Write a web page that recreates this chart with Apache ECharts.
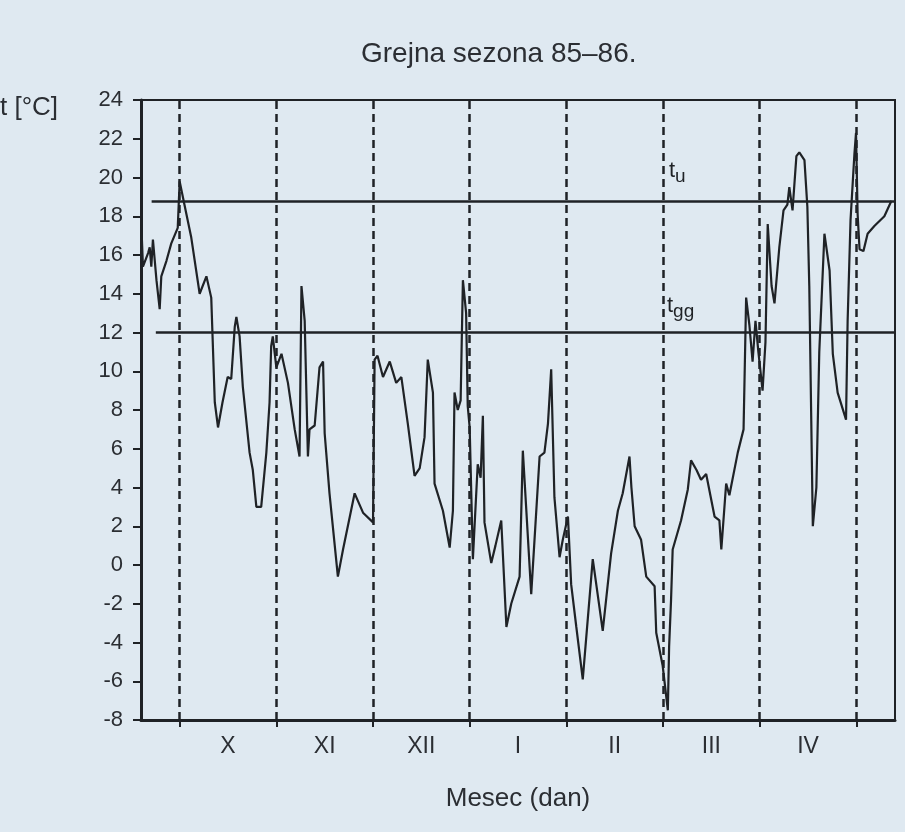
<!doctype html>
<html>
<head>
<meta charset="utf-8">
<script src="https://cdn.jsdelivr.net/npm/echarts@6/dist/echarts.min.js"></script>
<style>
    html, body { margin: 0; padding: 0; background: #dfe9f1; }
    #main { width: 905px; height: 832px; }
</style>
</head>
<body>
<div id="main"></div>
<script>
// x = dan sezone (0 = 1. oktobar, 30 dana po mesecu na crtezu)
var days = [-11.9,-11.4,-9.8,-9.3,-8.8,-8.3,-7.2,-6.2,-5.7,-4.1,
    -2.6,-0.6,0,1.6,3.6,6.2,8.3,9.8,10.9,11.9,
    13.3,14.9,16.0,17.1,17.6,18.6,19.6,21.7,22.7,23.8,
    25.3,26.9,27.9,28.4,28.9,30.0,31.6,33.6,35.7,37.2,
    37.8,38.8,39.8,40.3,41.9,43.4,44.5,45.0,46.5,49.1,
    50.7,54.3,56.9,60.0,60.5,61.4,63.1,65.2,67.2,68.8,
    70.8,72.9,74.5,76.0,77.0,78.6,79.1,81.7,83.8,84.8,
    85.3,86.3,87.2,87.9,88.9,89.4,90.0,91.0,92.5,93.4,
    94.1,94.6,96.7,98.0,99.8,101.4,102.9,105.5,106.5,109.1,
    111.7,113.2,114.3,115.3,116.3,117.9,118.9,120.5,121.5,123.1,
    125.1,128.2,131.3,133.9,136.0,137.5,139.6,140.2,141.2,143.2,
    144.8,147.4,147.9,149.9,151.5,151.9,152.5,153.0,155.6,157.7,
    158.7,160.4,161.8,163.4,166.0,167.5,168.1,169.6,170.6,173.2,
    175.0,175.8,176.8,177.8,178.7,179.6,180.9,181.8,182.5,183.7,
    184.6,186.1,187.4,188.6,189.2,190.2,191.4,192.3,193.9,194.8,
    195.4,196.5,197.6,198.5,200.1,201.7,202.7,204.2,206.8,207.3,
    208.2,209.4,209.9,210.4,211.0,212.2,213.5,215.6,218.7,220.9];

var temps = [17.6,15.4,16.1,16.4,15.4,16.8,14.7,13.2,14.9,15.7,
    16.6,17.4,19.8,18.5,16.9,14.0,14.9,13.8,8.4,7.1,
    8.4,9.7,9.6,12.3,12.8,11.8,9.2,5.8,4.9,3.0,
    3.0,5.8,8.4,11.3,11.8,10.2,10.9,9.4,7.0,5.6,
    14.4,12.6,5.6,7.0,7.2,10.2,10.5,6.8,3.7,-0.6,
    0.8,3.7,2.7,2.2,10.6,10.8,9.7,10.5,9.4,9.7,
    7.3,4.6,5.0,6.6,10.6,8.9,4.2,2.8,0.9,2.8,
    8.9,8.0,8.5,14.7,13.0,8.2,7.1,0.3,5.2,4.5,
    7.7,2.2,0.1,1.0,2.3,-3.2,-2.0,-0.6,5.9,-1.5,
    5.6,5.8,7.3,10.1,3.5,0.4,1.3,2.5,-1.0,-3.2,
    -5.9,0.3,-3.4,0.6,2.8,3.7,5.6,4.0,2.0,1.3,
    -0.6,-1.1,-3.5,-5.2,-7.5,-4.2,-1.8,0.8,2.3,3.9,
    5.4,4.9,4.4,4.7,2.5,2.3,0.8,4.2,3.6,5.8,
    7.0,13.8,12.4,10.5,12.6,11.0,9.0,11.5,17.6,14.4,
    13.5,16.4,18.3,18.6,19.5,18.3,21.1,21.3,20.9,18.5,
    14.4,2.0,4.0,11.0,17.1,15.2,10.9,8.9,7.5,12.6,
    17.8,21.2,22.3,18.1,16.3,16.2,17.1,17.5,18.0,18.8];

var monthStarts = [0, 30, 60, 90, 120, 150, 180, 210];
var monthMids = [15, 45, 75, 105, 135, 165, 195];
var monthNames = ['X', 'XI', 'XII', 'I', 'II', 'III', 'IV'];

var tU = 18.8;   // unutrasnja temperatura
var tGG = 12;    // granica grejanja

var font = "'Liberation Sans', Arial, sans-serif";
var ink = '#1f2226';
var txt = '#2b2e33';

var chart = echarts.init(document.getElementById('main'));

var seriesData = [];
for (var i = 0; i < days.length; i++) {
    seriesData.push([days[i], temps[i]]);
}

var lines = [];
monthStarts.forEach(function (d) {
    lines.push({xAxis: d, lineStyle: {type: [8, 5], width: 2.5, color: ink}});
});
lines.push([{coord: [-8.7, tU]}, {coord: [222, tU]}]);
lines.push([{coord: [-7.4, tGG]}, {coord: [222, tGG]}]);

var option = {
    backgroundColor: '#dfe9f1',
    animation: false,
    textStyle: {fontFamily: font, color: txt},
    title: {
        text: 'Grejna sezona 85–86.',
        left: 356,
        top: 35,
        textStyle: {fontFamily: font, fontSize: 28, fontWeight: 'normal', color: txt}
    },
    grid: {
        left: 141, right: 10, top: 100, bottom: 112,
        show: true, borderColor: ink, borderWidth: 2
    },
    xAxis: {
        type: 'value',
        min: -12,
        max: 222,
        axisLine: {onZero: false, lineStyle: {color: ink, width: 3}},
        axisTick: {show: true, customValues: monthStarts, length: 7, lineStyle: {color: ink, width: 2}},
        axisLabel: {
            customValues: monthMids,
            margin: 15,
            fontSize: 23,
            fontFamily: font,
            color: txt,
            formatter: function (v) { return monthNames[Math.round((v - 15) / 30)]; }
        },
        splitLine: {show: false},
        name: 'Mesec (dan)',
        nameLocation: 'middle',
        nameGap: 66,
        nameTextStyle: {fontSize: 26, fontFamily: font, color: txt}
    },
    yAxis: {
        type: 'value',
        min: -8,
        max: 24,
        interval: 2,
        axisLine: {show: true, onZero: false, lineStyle: {color: ink, width: 3}},
        axisTick: {show: true, length: 8, lineStyle: {color: ink, width: 2}},
        axisLabel: {margin: 18, fontSize: 22, fontFamily: font, color: txt},
        splitLine: {show: false}
    },
    graphic: [
        {type: 'text', left: 0, top: 95, style: {text: 't [°C]', font: '26px ' + font, fill: txt}},
        {type: 'text', left: 669, top: 160, style: {
            text: '{a|t}{b|u}',
            rich: {a: {fontSize: 22, fontFamily: font, fill: ink}, b: {fontSize: 19, fontFamily: font, fill: ink, padding: [12, 0, 0, 0]}}
        }},
        {type: 'text', left: 667, top: 295, style: {
            text: '{a|t}{b|gg}',
            rich: {a: {fontSize: 22, fontFamily: font, fill: ink}, b: {fontSize: 19, fontFamily: font, fill: ink, padding: [12, 0, 0, 0]}}
        }}
    ],
    series: [{
        type: 'line',
        data: seriesData,
        showSymbol: false,
        lineStyle: {color: ink, width: 2.2},
        markLine: {
            silent: true,
            symbol: 'none',
            label: {show: false},
            lineStyle: {type: 'solid', width: 2.5, color: ink},
            data: lines
        }
    }]
};

chart.setOption(option);
</script>
</body>
</html>
